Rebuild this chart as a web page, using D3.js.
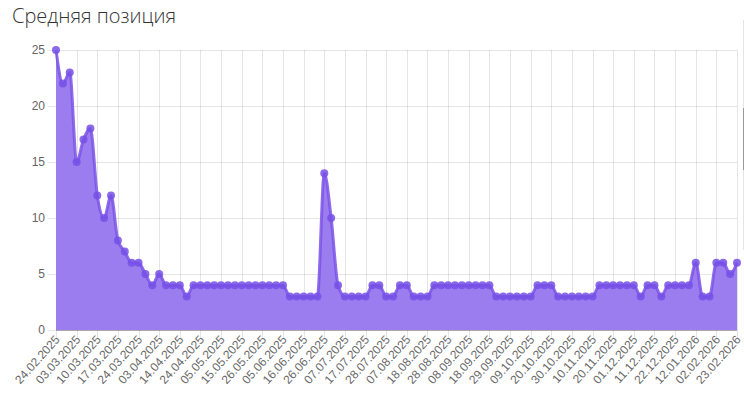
<!DOCTYPE html>
<html>
<head>
<meta charset="utf-8">
<script src="https://cdn.jsdelivr.net/npm/d3@7"></script>
<style>
  body { margin: 0; background: #fff; }
  svg { display: block; font-family: "Open Sans", "DejaVu Sans", sans-serif; }
</style>
</head>
<body>
<svg id="chart" width="744" height="416"></svg>
<script>
// tick labels, one for every 3rd point
var dateLabels = ["24.02.2025", "03.03.2025", "10.03.2025", "17.03.2025", "24.03.2025",
  "03.04.2025", "14.04.2025", "24.04.2025", "05.05.2025", "15.05.2025", "26.05.2025",
  "05.06.2025", "16.06.2025", "26.06.2025", "07.07.2025", "17.07.2025", "28.07.2025",
  "07.08.2025", "18.08.2025", "28.08.2025", "08.09.2025", "18.09.2025", "29.09.2025",
  "09.10.2025", "20.10.2025", "30.10.2025", "10.11.2025", "20.11.2025", "01.12.2025",
  "11.12.2025", "22.12.2025", "12.01.2026", "02.02.2026", "23.02.2026"];

// average position per check
var positions = [25, 22, 23, 15, 17, 18, 12, 10, 12, 8,
  7, 6, 6, 5, 4, 5, 4, 4, 4, 3,
  4, 4, 4, 4, 4, 4, 4, 4, 4, 4,
  4, 4, 4, 4, 3, 3, 3, 3, 3, 14,
  10, 4, 3, 3, 3, 3, 4, 4, 3, 3,
  4, 4, 3, 3, 3, 4, 4, 4, 4, 4,
  4, 4, 4, 4, 3, 3, 3, 3, 3, 3,
  4, 4, 4, 3, 3, 3, 3, 3, 3, 4,
  4, 4, 4, 4, 4, 3, 4, 4, 3, 4,
  4, 4, 4, 6, 3, 3, 6, 6, 5, 6];

var yTicks = [0, 5, 10, 15, 20, 25];
var labelStep = 3;

var margin = {top: 50, right: 7, bottom: 86, left: 56},
    width = 744 - margin.left - margin.right,
    height = 416 - margin.top - margin.bottom;

var svg = d3.select("#chart");

svg.append("text")
  .attr("x", 12)
  .attr("y", 23)
  .attr("fill", "#333")
  .style("font-size", "20px")
  .style("font-weight", 300)
  .text("Средняя позиция");

// neighbouring panel edge on the right
svg.append("line")
  .attr("x1", 743.5).attr("x2", 743.5).attr("y1", 20).attr("y2", 250)
  .attr("stroke", "#e4e4e4");
svg.append("line")
  .attr("x1", 743.5).attr("x2", 743.5).attr("y1", 108).attr("y2", 170)
  .attr("stroke", "#999");

var g = svg.append("g")
  .attr("transform", "translate(" + margin.left + "," + margin.top + ")");

var x = d3.scaleLinear().domain([0, positions.length - 1]).range([0, width]);
var y = d3.scaleLinear().domain([0, 25]).range([height, 0]);

var tickIdx = dateLabels.map(function(d, i) { return i * labelStep; });

// grid
g.append("g").selectAll("line")
  .data(yTicks).enter().append("line")
  .attr("x1", -8).attr("x2", width)
  .attr("y1", function(d) { return Math.round(y(d)) + 0.5; })
  .attr("y2", function(d) { return Math.round(y(d)) + 0.5; })
  .attr("stroke", "rgba(0,0,0,0.1)");

g.append("g").selectAll("line")
  .data(tickIdx).enter().append("line")
  .attr("x1", function(d) { return Math.round(x(d)) + 0.5; })
  .attr("x2", function(d) { return Math.round(x(d)) + 0.5; })
  .attr("y1", 0).attr("y2", height + 8)
  .attr("stroke", "rgba(0,0,0,0.1)");

// y labels
var yAxis = g.append("g")
  .call(d3.axisLeft(y).tickValues(yTicks).tickSize(0).tickPadding(11));
yAxis.select(".domain").remove();
yAxis.selectAll("text").attr("fill", "#666").style("font-size", "12px")
  .style("font-family", "Liberation Sans, Arial, sans-serif");

// x labels
var xAxis = g.append("g")
  .attr("transform", "translate(0," + height + ")")
  .call(d3.axisBottom(x).tickValues(tickIdx).tickSize(0)
    .tickFormat(function(d) { return dateLabels[d / labelStep]; }));
xAxis.select(".domain").remove();
xAxis.selectAll("text")
  .attr("fill", "#6a6a6a")
  .style("font-size", "12px")
  .style("font-family", "Liberation Sans, Arial, sans-serif")
  .attr("text-anchor", "end")
  .attr("dy", null)
  .attr("y", 0)
  .attr("transform", "translate(4,10) rotate(-48)");

// area + line
var area = d3.area()
  .x(function(d, i) { return x(i); })
  .y0(height)
  .y1(function(d) { return y(d); })
  .curve(d3.curveMonotoneX);

var line = d3.line()
  .x(function(d, i) { return x(i); })
  .y(function(d) { return y(d); })
  .curve(d3.curveMonotoneX);

g.append("path")
  .datum(positions)
  .attr("d", area)
  .attr("fill", "#9c7def");

g.append("path")
  .datum(positions)
  .attr("d", line)
  .attr("fill", "none")
  .attr("stroke", "#7b52e8")
  .attr("stroke-width", 3)
  .attr("stroke-opacity", 0.85);

// bottom axis line
g.append("line")
  .attr("x1", 0).attr("x2", width)
  .attr("y1", height + 0.5).attr("y2", height + 0.5)
  .attr("stroke", "rgba(0,0,0,0.25)");

g.append("g").selectAll("circle")
  .data(positions).enter().append("circle")
  .attr("cx", function(d, i) { return x(i); })
  .attr("cy", function(d) { return y(d); })
  .attr("r", 4)
  .attr("fill", "#7650e6")
  .attr("fill-opacity", 0.85);
</script>
</body>
</html>
